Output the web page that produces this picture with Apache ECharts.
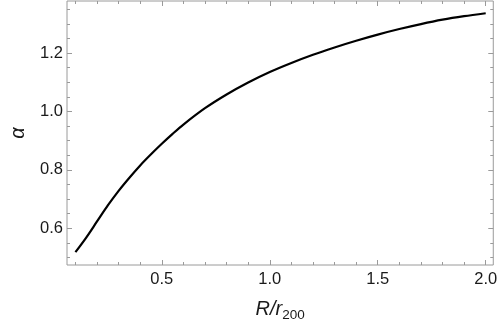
<!DOCTYPE html>
<html>
<head>
<meta charset="utf-8">
<script src="https://cdn.jsdelivr.net/npm/echarts@6/dist/echarts.min.js"></script>
<style>
  html, body { margin: 0; padding: 0; background: #fff; }
  #chart { width: 500px; height: 327px; }
</style>
</head>
<body>
<div id="chart"></div>
<script>
// curve
var rValues = [0.1, 0.15, 0.2, 0.25, 0.3, 0.35, 0.4, 0.45, 0.5, 0.55, 0.6, 0.7, 0.8, 0.9, 1.0, 1.1, 1.2, 1.3, 1.4, 1.5, 1.6, 1.7, 1.8, 1.9, 2.0];
var alphaValues = [0.518, 0.568, 0.623, 0.678, 0.728, 0.773, 0.815, 0.853, 0.889, 0.923, 0.955, 1.011, 1.058, 1.099, 1.135, 1.166, 1.194, 1.219, 1.242, 1.263, 1.282, 1.299, 1.314, 1.326, 1.336];

// frame ticks
var xMajorTicks = [0.5, 1.0, 1.5, 2.0];
var xMinorTicks = [0.1, 0.2, 0.3, 0.4, 0.6, 0.7, 0.8, 0.9, 1.1, 1.2, 1.3, 1.4, 1.6, 1.7, 1.8, 1.9];
var yMajorTicks = [0.6, 0.8, 1.0, 1.2];
var yMinorTicks = [0.5, 0.55, 0.65, 0.7, 0.75, 0.85, 0.9, 0.95, 1.05, 1.1, 1.15, 1.25, 1.3, 1.35];

var frameColor = '#9a9a9a';
var textColor = '#1a1a1a';
var font = 'Liberation Sans, Arial, sans-serif';

var seriesData = [];
for (var i = 0; i < rValues.length; i++) {
    seriesData.push([rValues[i], alphaValues[i]]);
}

function tickAxis(pos, ticks, len, extra) {
    var ax = {
        type: 'value',
        position: pos,
        axisLine: { show: false },
        splitLine: { show: false },
        axisTick: {
            show: true,
            inside: true,
            length: len,
            customValues: ticks,
            lineStyle: { color: frameColor, width: 1 }
        },
        axisLabel: { show: false }
    };
    for (var k in extra) ax[k] = extra[k];
    return ax;
}

var xRange = { min: 0.061, max: 2.035 };
var yRange = { min: 0.474, max: 1.378 };

var chart = echarts.init(document.getElementById('chart'), null, { renderer: 'canvas' });

var xMain = tickAxis('bottom', xMajorTicks, 5, xRange);
xMain.axisLabel = {
    show: true,
    customValues: xMajorTicks,
    formatter: function (v) { return v.toFixed(1); },
    color: textColor,
    fontFamily: font,
    fontSize: 16.5,
    margin: 6
};
xMain.name = '{i|R/r}{s|200}';
xMain.nameLocation = 'middle';
xMain.nameGap = 31;
xMain.nameTextStyle = {
    rich: {
        i: { fontFamily: font, fontStyle: 'italic', fontSize: 20, color: textColor },
        s: { fontFamily: font, fontSize: 13.5, color: textColor, padding: [12, 0, 0, 0] }
    }
};

var yMain = tickAxis('left', yMajorTicks, 5, yRange);
yMain.axisLabel = {
    show: true,
    customValues: yMajorTicks,
    formatter: function (v) { return v.toFixed(1); },
    color: textColor,
    fontFamily: font,
    fontSize: 16.5,
    margin: 4
};
yMain.name = 'α';
yMain.nameLocation = 'middle';
yMain.nameGap = 39;
yMain.nameTextStyle = { fontFamily: font, fontStyle: 'italic', fontSize: 20, color: textColor };

chart.setOption({
    animation: false,
    backgroundColor: '#fff',
    grid: {
        left: 57,
        right: 3,
        top: 1,
        bottom: 55,
        show: true,
        borderColor: frameColor,
        borderWidth: 1,
        backgroundColor: 'transparent'
    },
    xAxis: [
        xMain,
        tickAxis('bottom', xMinorTicks, 3, xRange),
        tickAxis('top', xMajorTicks, 5, xRange),
        tickAxis('top', xMinorTicks, 3, xRange)
    ],
    yAxis: [
        yMain,
        tickAxis('left', yMinorTicks, 3, yRange),
        tickAxis('right', yMajorTicks, 5, yRange),
        tickAxis('right', yMinorTicks, 3, yRange)
    ],
    series: [{
        type: 'line',
        xAxisIndex: 0,
        yAxisIndex: 0,
        data: seriesData,
        smooth: 0.3,
        showSymbol: false,
        lineStyle: { color: '#000', width: 2.2 }
    }]
});
</script>
</body>
</html>
